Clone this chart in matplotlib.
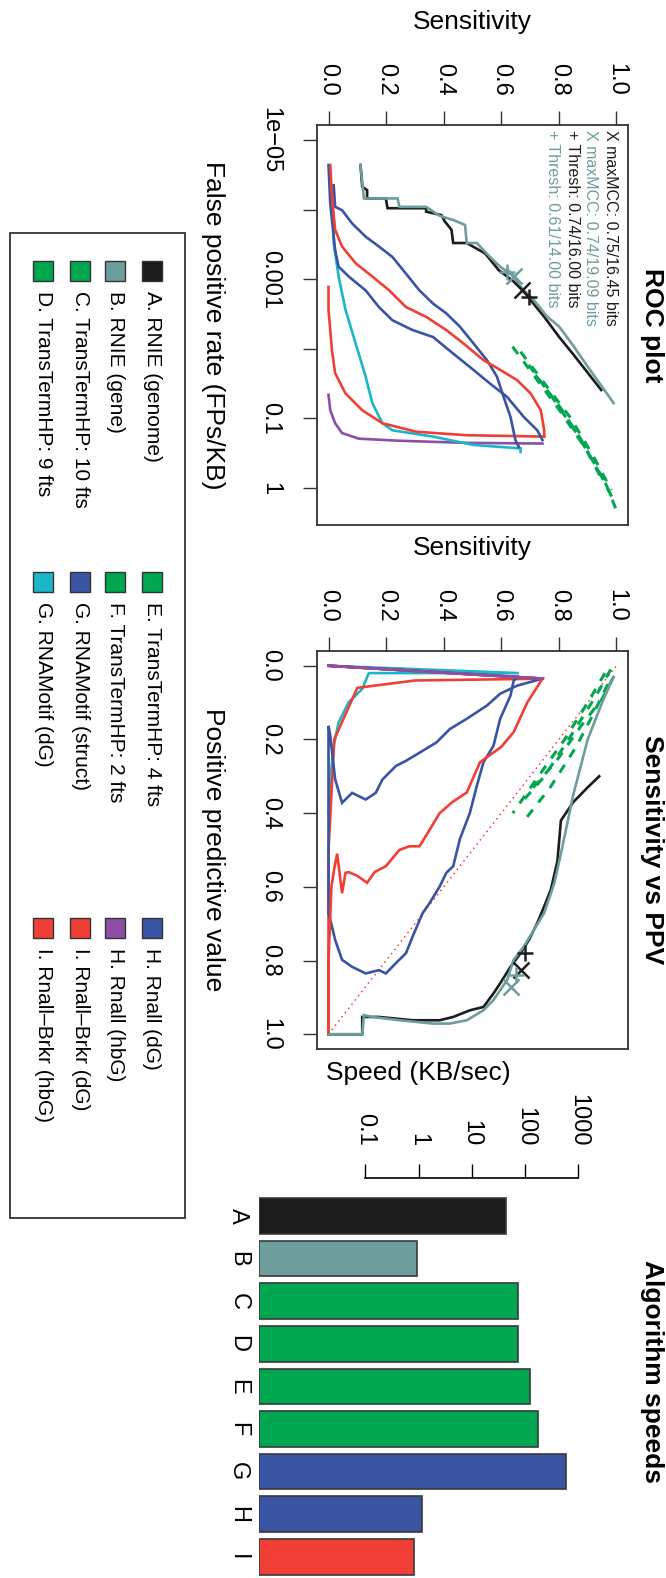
import matplotlib.pyplot as plt
from matplotlib.patches import Rectangle
from matplotlib.ticker import FixedLocator, NullLocator

plt.rcParams['font.family'] = ['Liberation Sans', 'DejaVu Sans']

W, H = 666, 1578
fig = plt.figure(figsize=(W / 100, H / 100), dpi=100)


def axes_px(x0, y0, x1, y1):
    return fig.add_axes([x0 / W, 1 - y1 / H, (x1 - x0) / W, (y1 - y0) / H])


def text_px(x, y, s, **kw):
    fig.text(x / W, 1 - y / H, s, **kw)


c_black = '#1c1c1c'
c_teal = '#6e9d9d'
c_green = '#00a650'
c_blue = '#3a54a4'
c_cyan = '#1bb7c9'
c_purple = '#8c4fa5'
c_red = '#ef3f37'

# ---- ROC curves: sensitivity vs false positives per KB ----
roc_a_sens = [0.111, 0.117, 0.134, 0.134, 0.199, 0.205, 0.339, 0.339, 0.392, 0.404, 0.427, 0.433,
              0.480, 0.544, 0.591, 0.620, 0.667, 0.702, 0.749, 0.801, 0.85, 0.90, 0.947]
roc_a_fpr = [2.29e-5, 4.68e-5, 5.25e-5, 6.92e-5, 6.92e-5, 9.55e-5, 9.55e-5, 1.07e-4, 1.2e-4, 1.48e-4,
             1.95e-4, 3.02e-4, 3.02e-4, 4.27e-4, 7.41e-4, 9.12e-4, 1.29e-3, 2.0e-3, 3.47e-3, 6.76e-3,
             0.012, 0.022, 0.039]
roc_b_sens = [0.111, 0.123, 0.240, 0.246, 0.339, 0.386, 0.433, 0.474, 0.480, 0.515, 0.561, 0.596,
              0.637, 0.667, 0.713, 0.760, 0.801, 0.85, 0.90, 0.95, 0.99]
roc_b_fpr = [2.29e-5, 6.92e-5, 6.92e-5, 9.12e-5, 9.12e-5, 1.23e-4, 1.41e-4, 1.66e-4, 3.02e-4, 3.02e-4,
             4.79e-4, 6.61e-4, 8.71e-4, 1.29e-3, 2.0e-3, 3.47e-3, 4.79e-3, 0.009, 0.018, 0.035, 0.06]
roc_green_sens = [[0.639, 0.719, 0.807, 0.895, 0.965, 1.0],
                  [0.667, 0.754, 0.842, 0.923, 0.982],
                  [0.695, 0.779, 0.860, 0.937, 0.989],
                  [0.719, 0.800, 0.877, 0.947]]
roc_green_fpr = [[0.0093, 0.026, 0.081, 0.28, 0.91, 2.1],
                 [0.011, 0.033, 0.10, 0.37, 1.07],
                 [0.017, 0.051, 0.16, 0.55, 1.48],
                 [0.024, 0.065, 0.20, 0.72]]
roc_g_struct_sens = [0.018, 0.023, 0.047, 0.082, 0.129, 0.175, 0.222, 0.269, 0.316, 0.363, 0.409,
                     0.456, 0.503, 0.550, 0.585, 0.608, 0.632, 0.649, 0.661]
roc_g_struct_fpr = [4.47e-5, 9.12e-5, 1.02e-4, 1.58e-4, 2.45e-4, 3.39e-4, 4.79e-4, 8.32e-4, 1.45e-3,
                    2.24e-3, 3.09e-3, 4.79e-3, 8.32e-3, 0.0145, 0.0251, 0.049, 0.095, 0.204, 0.257]
roc_g_dg_sens = [0.012, 0.018, 0.035, 0.059, 0.094, 0.129, 0.152, 0.187, 0.222, 0.363, 0.503, 0.667, 0.667]
roc_g_dg_fpr = [4.68e-5, 3.02e-4, 9.12e-4, 2.75e-3, 8.32e-3, 0.0251, 0.06, 0.117, 0.148, 0.182,
                0.24, 0.269, 0.302]
roc_h_dg_sens = [0.0, 0.006, 0.023, 0.035, 0.070, 0.129, 0.175, 0.222, 0.292, 0.363, 0.433, 0.503,
                 0.561, 0.620, 0.678, 0.725, 0.743]
roc_h_dg_fpr = [2.29e-5, 8.13e-5, 3.8e-4, 6.61e-4, 9.12e-4, 1.45e-3, 2.51e-3, 3.89e-3, 5.37e-3,
                6.76e-3, 0.0117, 0.02, 0.0316, 0.049, 0.095, 0.148, 0.204]
roc_h_hbg_sens = [0.0, 0.006, 0.023, 0.047, 0.105, 0.246, 0.480, 0.743]
roc_h_hbg_fpr = [0.0457, 0.076, 0.117, 0.162, 0.195, 0.209, 0.224, 0.229]
roc_i_dg_sens = [0.006, 0.012, 0.023, 0.047, 0.094, 0.152, 0.211, 0.269, 0.339, 0.409, 0.468, 0.538,
                 0.596, 0.655, 0.702, 0.737, 0.749, 0.749]
roc_i_dg_fpr = [2.29e-5, 6.46e-5, 1.95e-4, 3.39e-4, 5.89e-4, 9.12e-4, 1.45e-3, 2.51e-3, 3.47e-3,
                5.37e-3, 8.32e-3, 0.0145, 0.02, 0.0282, 0.0437, 0.076, 0.148, 0.182]
roc_i_hbg_sens = [0.0, 0.0, 0.012, 0.023, 0.059, 0.117, 0.187, 0.304, 0.480, 0.749]
roc_i_hbg_fpr = [1.29e-3, 2.75e-3, 0.0105, 0.0224, 0.0437, 0.076, 0.117, 0.155, 0.174, 0.182]

roc_mark_sens = [0.672, 0.643, 0.696, 0.620]
roc_mark_fpr = [1.45e-3, 9.12e-4, 1.78e-3, 8.0e-4]

# ---- sensitivity vs positive predictive value ----
ppv_a_sens = [0.0, 0.117, 0.117, 0.175, 0.292, 0.386, 0.433, 0.491, 0.538, 0.573, 0.596, 0.632, 0.667,
              0.696, 0.725, 0.749, 0.772, 0.795, 0.807, 0.85, 0.90, 0.94]
ppv_a_ppv = [1.0, 1.0, 0.953, 0.953, 0.962, 0.962, 0.953, 0.935, 0.926, 0.889, 0.862, 0.817, 0.780,
             0.744, 0.698, 0.653, 0.608, 0.53, 0.42, 0.37, 0.33, 0.30]
ppv_b_sens = [0.0, 0.117, 0.123, 0.152, 0.246, 0.363, 0.421, 0.480, 0.538, 0.573, 0.620, 0.643, 0.678,
              0.713, 0.749, 0.784, 0.807, 0.85, 0.90, 0.95, 0.99]
ppv_b_ppv = [1.0, 1.0, 0.948, 0.953, 0.962, 0.971, 0.971, 0.962, 0.935, 0.907, 0.853, 0.798, 0.762,
             0.717, 0.671, 0.59, 0.51, 0.35, 0.20, 0.10, 0.03]
ppv_green_sens = [[0.98, 0.93, 0.85, 0.75, 0.66],
                  [0.96, 0.90, 0.82, 0.72, 0.64],
                  [0.99, 0.95, 0.88, 0.79, 0.70],
                  [0.97, 0.92, 0.86, 0.77, 0.68]]
ppv_green_ppv = [[0.01, 0.08, 0.18, 0.30, 0.38],
                 [0.02, 0.10, 0.20, 0.31, 0.40],
                 [0.03, 0.09, 0.16, 0.26, 0.34],
                 [0.05, 0.13, 0.22, 0.33, 0.42]]
ppv_g_struct_sens = [0.0, 0.661, 0.643, 0.632, 0.596, 0.573, 0.538, 0.515, 0.491, 0.456, 0.433, 0.409,
                     0.386, 0.351, 0.327, 0.292, 0.269, 0.234, 0.199, 0.175, 0.129, 0.082, 0.047,
                     0.023, 0.012, 0.0]
ppv_g_struct_ppv = [0.0, 0.030, 0.040, 0.081, 0.144, 0.217, 0.262, 0.326, 0.399, 0.471, 0.544, 0.562,
                    0.599, 0.644, 0.671, 0.735, 0.780, 0.807, 0.835, 0.826, 0.835, 0.817, 0.798,
                    0.744, 0.708, 0.671]
ppv_g_dg_sens = [0.0, 0.661, 0.14, 0.117, 0.070, 0.035, 0.018, 0.006, 0.0]
ppv_g_dg_ppv = [0.0, 0.02, 0.02, 0.063, 0.099, 0.154, 0.217, 0.309, 0.399]
ppv_h_dg_sens = [0.0, 0.743, 0.655, 0.596, 0.550, 0.480, 0.421, 0.375, 0.316, 0.269, 0.234, 0.187,
                 0.164, 0.129, 0.082, 0.047, 0.023, 0.006, 0.0, 0.0]
ppv_h_dg_ppv = [0.0, 0.035, 0.054, 0.076, 0.108, 0.144, 0.172, 0.208, 0.236, 0.258, 0.272, 0.309,
                0.345, 0.363, 0.345, 0.372, 0.308, 0.19, 0.163, 0.67]
ppv_h_hbg_sens = [0.0, 0.743]
ppv_h_hbg_ppv = [0.0, 0.035]
ppv_i_dg_sens = [0.0, 0.743, 0.69, 0.643, 0.60, 0.526, 0.48, 0.43, 0.386, 0.316, 0.28, 0.246, 0.199,
                 0.16, 0.134, 0.10, 0.07, 0.059, 0.047, 0.03, 0.02, 0.01, 0.0, 0.0]
ppv_i_dg_ppv = [0.0, 0.035, 0.10, 0.18, 0.22, 0.262, 0.344, 0.37, 0.40, 0.49, 0.49, 0.50, 0.544,
                0.56, 0.589, 0.57, 0.56, 0.562, 0.617, 0.51, 0.55, 0.60, 0.80, 1.0]
ppv_i_hbg_sens = [0.0, 0.749, 0.30, 0.10, 0.02, 0.0, 0.0]
ppv_i_hbg_ppv = [0.0, 0.035, 0.04, 0.06, 0.2, 0.5, 1.0]

ppv_mark_sens = [0.667, 0.632, 0.684, 0.650]
ppv_mark_ppv = [0.826, 0.871, 0.78, 0.84]

# ---- algorithm speeds ----
speed_cats = ['A', 'B', 'C', 'D', 'E', 'F', 'G', 'H', 'I']
speed_kb = [44, 0.95, 73, 76, 123, 180, 590, 1.15, 0.81]
speed_cols = [c_black, c_teal, c_green, c_green, c_green, c_green, c_blue, c_blue, c_red]

legend_labels = ['A. RNIE (genome)', 'B. RNIE (gene)', 'C. TransTermHP: 10 fts', 'D. TransTermHP: 9 fts',
                 'E. TransTermHP: 4 fts', 'F. TransTermHP: 2 fts', 'G. RNAMotif (struct)', 'G. RNAMotif (dG)',
                 'H. Rnall (dG)', 'H. Rnall (hbG)', 'I. Rnall\u2013Brkr (dG)', 'I. Rnall\u2013Brkr (hbG)']
legend_cols = [c_black, c_teal, c_green, c_green, c_green, c_green, c_blue, c_cyan,
               c_blue, c_purple, c_red, c_red]

mcc_lines = ['X maxMCC: 0.75/16.45 bits', 'X maxMCC: 0.74/19.09 bits',
             '+ Thresh: 0.74/16.00 bits', '+ Thresh: 0.61/14.00 bits']
mcc_cols = [c_black, c_teal, c_black, c_teal]

LW = 1.9
TICK_FS = 17
LAB_FS = 19


def style_box(ax):
    for s in ax.spines.values():
        s.set_linewidth(1.3)
        s.set_color('#333333')
    ax.xaxis.tick_top()
    ax.set_xlim(-0.04, 1.04)
    ax.set_xticks([0, 0.2, 0.4, 0.6, 0.8, 1.0])
    ax.set_xticklabels(['0.0', '0.2', '0.4', '0.6', '0.8', '1.0'], rotation=-90)
    ax.tick_params(axis='x', length=10, width=1, pad=11, labelsize=TICK_FS, color='#333333')
    ax.tick_params(axis='y', length=10, width=1, pad=16, labelsize=TICK_FS, color='#333333')


def draw_common(ax, curves):
    for xs, ys, col in curves:
        ax.plot(xs, ys, color=col, lw=LW, solid_joinstyle='miter')


# ROC panel
ax1 = axes_px(317, 125, 628, 525)
ax1.set_yscale('log')
for xs, ys in zip(roc_green_sens, roc_green_fpr):
    ax1.plot(xs, ys, color=c_green, lw=2.2, ls=(0, (3, 3)))
draw_common(ax1, [
    (roc_h_hbg_sens, roc_h_hbg_fpr, c_purple),
    (roc_g_dg_sens, roc_g_dg_fpr, c_cyan),
    (roc_i_hbg_sens, roc_i_hbg_fpr, c_red),
    (roc_h_dg_sens, roc_h_dg_fpr, c_blue),
    (roc_g_struct_sens, roc_g_struct_fpr, c_blue),
    (roc_i_dg_sens, roc_i_dg_fpr, c_red),
    (roc_a_sens, roc_a_fpr, c_black),
    (roc_b_sens, roc_b_fpr, c_teal),
])
for sx, fy, mk, col in zip(roc_mark_sens, roc_mark_fpr, ['x', 'x', '+', '+'], mcc_cols):
    ax1.plot(sx, fy, marker=mk, ms=11, mew=1.8, color=col, ls='none')
ax1.set_ylim(10 ** 0.53, 10 ** -5.215)
ax1.yaxis.set_major_locator(FixedLocator([1e-5, 1e-4, 1e-3, 1e-2, 1e-1, 1]))
ax1.yaxis.set_minor_locator(NullLocator())
ax1.set_yticklabels(['1e\u221205', '', '0.001', '', '0.1', '1'], rotation=-90, va='center')
style_box(ax1)
for i, (s, col) in enumerate(zip(mcc_lines, mcc_cols)):
    text_px(610 - 19 * i, 130, s, rotation=-90, ha='center', va='top', fontsize=11.5, color=col)

# sensitivity vs PPV panel
ax2 = axes_px(317, 651, 628, 1049)
ax2.plot([0, 1], [1, 0], color=c_red, lw=1.1, ls=(0, (1, 2.5)))
for xs, ys in zip(ppv_green_sens, ppv_green_ppv):
    ax2.plot(xs, ys, color=c_green, lw=2.2, ls=(0, (3, 3)))
draw_common(ax2, [
    (ppv_g_dg_sens, ppv_g_dg_ppv, c_cyan),
    (ppv_i_hbg_sens, ppv_i_hbg_ppv, c_red),
    (ppv_h_dg_sens, ppv_h_dg_ppv, c_blue),
    (ppv_g_struct_sens, ppv_g_struct_ppv, c_blue),
    (ppv_i_dg_sens, ppv_i_dg_ppv, c_red),
    (ppv_h_hbg_sens, ppv_h_hbg_ppv, c_purple),
    (ppv_a_sens, ppv_a_ppv, c_black),
    (ppv_b_sens, ppv_b_ppv, c_teal),
])
for sx, py, mk, col in zip(ppv_mark_sens, ppv_mark_ppv, ['x', 'x', '+', '+'], mcc_cols):
    ax2.plot(sx, py, marker=mk, ms=11, mew=1.8, color=col, ls='none')
ax2.set_ylim(1.04, -0.04)
ax2.set_yticks([0, 0.2, 0.4, 0.6, 0.8, 1.0])
ax2.set_yticklabels(['0.0', '0.2', '0.4', '0.6', '0.8', '1.0'], rotation=-90, va='center')
style_box(ax2)

# axis labels and titles (read top to bottom)
text_px(472, 22, 'Sensitivity', ha='center', va='center', fontsize=LAB_FS)
text_px(472, 548, 'Sensitivity', ha='center', va='center', fontsize=LAB_FS)
text_px(213, 325, 'False positive rate (FPs/KB)', rotation=-90, ha='center', va='center', fontsize=LAB_FS)
text_px(213, 850, 'Positive predictive value', rotation=-90, ha='center', va='center', fontsize=LAB_FS)
text_px(652, 325, 'ROC plot', rotation=-90, ha='center', va='center', fontsize=LAB_FS, fontweight='bold')
text_px(652, 850, 'Sensitivity vs PPV', rotation=-90, ha='center', va='center', fontsize=LAB_FS,
        fontweight='bold')
text_px(652, 1372, 'Algorithm speeds', rotation=-90, ha='center', va='center', fontsize=LAB_FS,
        fontweight='bold')
text_px(418, 1073, 'Speed (KB/sec)', ha='center', va='center', fontsize=LAB_FS)

# speed bars
ax3 = axes_px(259, 1178, 578, 1578)
base = 1e-3
pos = list(range(len(speed_cats)))
ax3.barh(pos, [v - base for v in speed_kb], left=base, height=0.84, color=speed_cols,
         edgecolor='#3a3a3a', linewidth=1.2)
ax3.set_xscale('log')
ax3.set_xlim(1e-3, 1e3)
ax3.set_ylim(8.498, -0.892)
for side in ['left', 'right', 'bottom']:
    ax3.spines[side].set_visible(False)
ax3.spines['top'].set_bounds(0.1, 1000)
ax3.spines['top'].set_linewidth(1.2)
ax3.xaxis.tick_top()
ax3.xaxis.set_major_locator(FixedLocator([0.1, 1, 10, 100, 1000]))
ax3.xaxis.set_minor_locator(NullLocator())
ax3.set_xticklabels(['0.1', '1', '10', '100', '1000'], rotation=-90)
ax3.tick_params(axis='x', length=10, width=1, pad=13, labelsize=TICK_FS)
ax3.set_yticks(pos)
ax3.set_yticklabels(speed_cats, rotation=-90, va='center')
ax3.tick_params(axis='y', length=0, pad=7, labelsize=TICK_FS)

# legend box
fig.add_artist(Rectangle((10 / W, 1 - 1218 / H), 175 / W, 985 / H, transform=fig.transFigure,
                         fill=False, lw=1.3, ec='#333333'))
col_y = [271, 582, 928]
row_x = [152, 115, 80, 43]
sq = 20
for k, (lab, col) in enumerate(zip(legend_labels, legend_cols)):
    cy = col_y[k // 4]
    rx = row_x[k % 4]
    fig.add_artist(Rectangle(((rx - sq / 2) / W, 1 - (cy + sq / 2) / H), sq / W, sq / H,
                             transform=fig.transFigure, fc=col, ec='#333333', lw=1))
    text_px(rx, cy + 20, lab, rotation=-90, ha='center', va='top', fontsize=15)

fig.savefig('out.png', dpi=100)
